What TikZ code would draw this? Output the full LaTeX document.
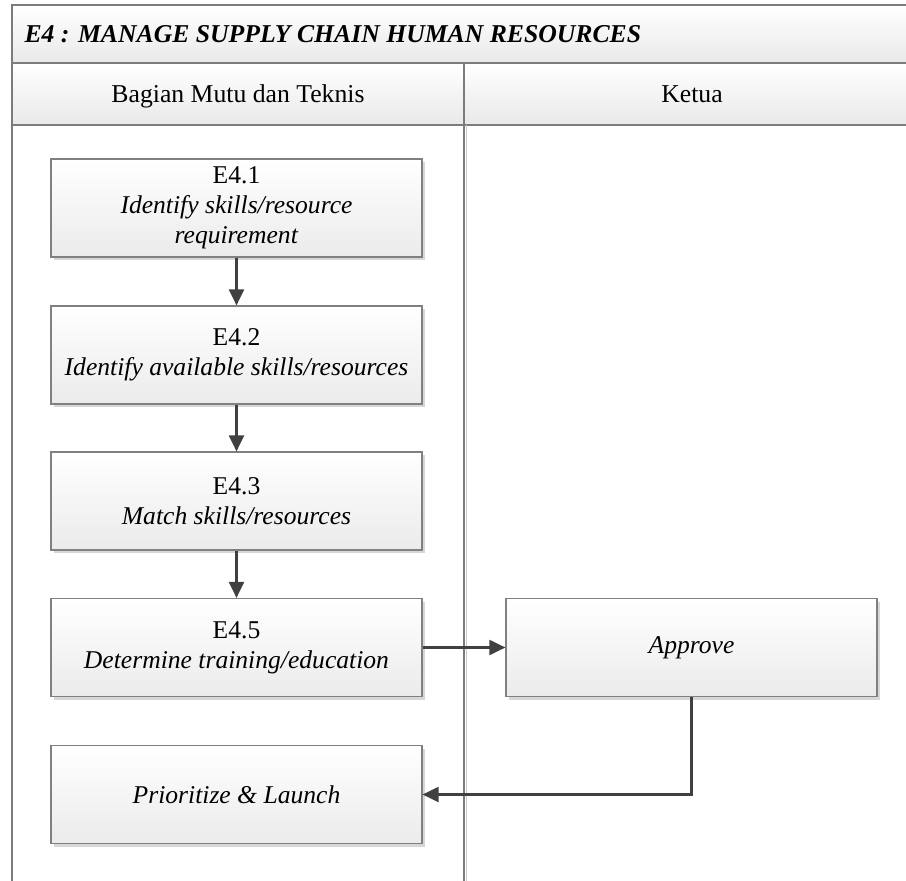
\documentclass[tikz,border=0pt]{standalone}
\usepackage{fontspec}
\setmainfont{Liberation Serif}
\usetikzlibrary{arrows.meta,shadows}

\definecolor{framegray}{HTML}{7C7C7C}
\definecolor{bandgray}{HTML}{E9E9E9}
\definecolor{boxborder}{HTML}{808080}
\definecolor{boxbottom}{HTML}{EBEBEB}
\definecolor{arrowgray}{HTML}{404040}

\begin{document}
\begin{tikzpicture}[x=1pt,y=-1pt,
  frame/.style={draw=framegray, line width=1.2pt},
  band/.style={frame, top color=white, bottom color=bandgray},
  task/.style={draw=boxborder, line width=1.2pt, top color=white,
    bottom color=boxbottom, minimum width=371pt, minimum height=98pt,
    align=center, inner sep=0pt, font=\fontsize{25.6}{30}\selectfont,
    drop shadow={shadow xshift=3pt, shadow yshift=-3pt, fill=black!35, opacity=0.45}},
  flow/.style={draw=arrowgray, line width=2.1pt, -{Triangle[length=16pt,width=15pt]}},
  lanehead/.style={anchor=base, font=\fontsize{25.7}{30}\selectfont},
]
\useasboundingbox (0,0) rectangle (906,881);
\clip (0,0) rectangle (906,881);

% pool title bar and lane headers
\path[band] (12,5) rectangle (930,63);
\path[band] (12,63) rectangle (464,125);
\path[band] (464,63) rectangle (930,125);

% lane boundaries
\draw[frame] (12,125) -- (12,890);
\draw[frame] (464,125) -- (464,890);
\draw[draw=framegray!40, line width=0.8pt] (466.5,125) -- (466.5,890);

\node[anchor=base west, font=\fontsize{25.7}{30}\selectfont\bfseries\itshape]
  (title) at (21,42) {E4 : MANAGE SUPPLY CHAIN HUMAN RESOURCES};
\node[lanehead] (lane1) at (238,102) {Bagian Mutu dan Teknis};
\node[lanehead] (lane2) at (692,102) {Ketua};

% activities
\node[task] (e41) at (236.5,208) {E4.1\\\textit{Identify skills/resource}\\\textit{requirement}};
\node[task] (e42) at (236.5,355) {E4.2\\\textit{Identify available skills/resources}};
\node[task] (e43) at (236.5,501) {E4.3\\\textit{Match skills/resources}};
\node[task] (e45) at (236.5,647.5) {E4.5\\\textit{Determine training/education}};
\node[task] (prio) at (236.5,794.5) {\textit{Prioritize \& Launch}};
\node[task] (appr) at (691.5,647.5) {\textit{Approve}};

% flow
\draw[flow] (e41) -- (e42);
\draw[flow] (e42) -- (e43);
\draw[flow] (e43) -- (e45);
\draw[flow] (e45) -- (appr);
\draw[flow] (appr.south) |- (prio.east);
\end{tikzpicture}
\end{document}
